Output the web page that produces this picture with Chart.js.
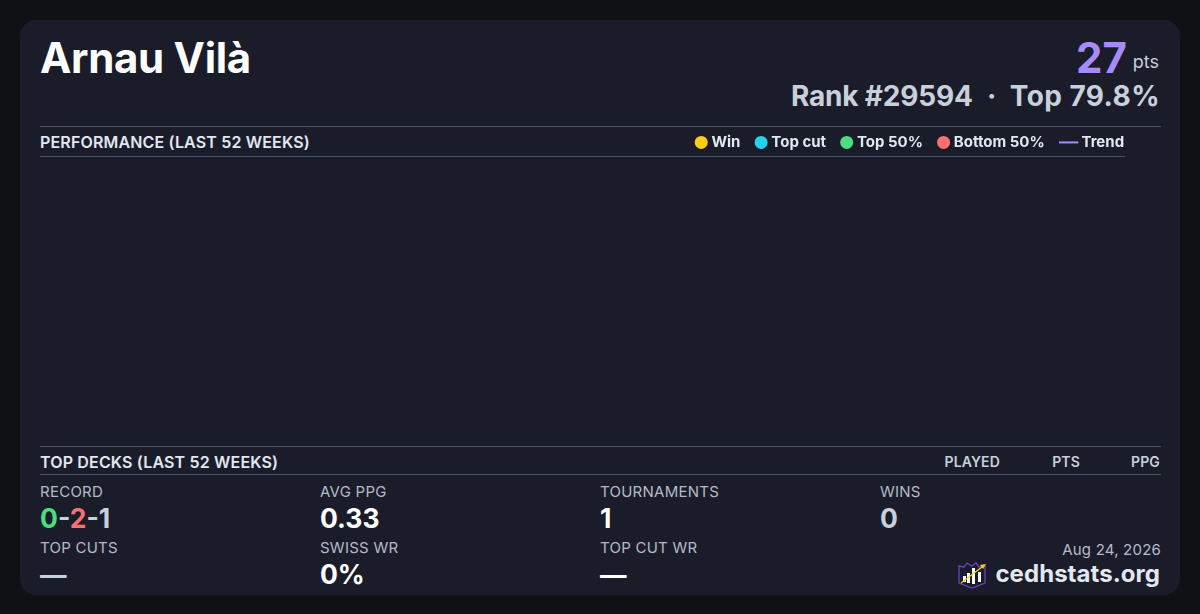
<!DOCTYPE html>
<html>
<head>
<meta charset="utf-8">
<title>Arnau Vilà</title>
<script src="https://cdn.jsdelivr.net/npm/chart.js@4"></script>
<style>
html, body { margin: 0; padding: 0; width: 1200px; height: 614px; overflow: hidden; background: #0f1115; font-family: Inter, sans-serif; }
#card { position: absolute; left: 20px; top: 20px; width: 1160px; height: 575px; background: #1a1d29; border-radius: 16px; }
.abs { position: absolute; white-space: nowrap; line-height: 1; }
.rule { position: absolute; height: 1px; background: #475569; left: 40px; }
.head { font-size: 16px; font-weight: 600; color: #e2e8f0; letter-spacing: 0.16px; }
.col { font-size: 14px; font-weight: 600; color: #c8d0dc; letter-spacing: 0.15px; }
.lab { font-size: 15px; color: #b4bbc8; letter-spacing: 0.25px; }
.val { font-size: 26.5px; font-weight: 700; color: #fff; }
.rank { font-size: 28px; font-weight: 650; color: #c8d0dc; top: 82px; }
#wrap { position: absolute; left: 40px; top: 117px; width: 1102px; height: 329px; }
</style>
</head>
<body>
<div id="card"></div>
<div class="abs" style="left:40px;top:37px;font-size:42px;font-weight:700;color:#fff;letter-spacing:-0.3px;">Arnau Vilà</div>
<div class="abs" style="right:73px;top:37px;font-size:42px;font-weight:700;color:#a78bfa;">27</div>
<div class="abs" style="right:41px;top:53px;font-size:18px;color:#c8d0dc;">pts</div>
<div class="abs rank" style="left:791px;letter-spacing:-0.2px;">Rank #29594</div>
<div class="abs rank" style="left:987px;">·</div>
<div class="abs rank" style="right:40px;letter-spacing:0.4px;">Top 79.8%</div>

<div class="rule" style="top:126px;width:1121px;"></div>
<div class="rule" style="top:156px;width:1085px;"></div>
<div class="abs head" style="left:40px;top:134px;">PERFORMANCE (LAST 52 WEEKS)</div>

<div id="wrap"><canvas id="perf"></canvas></div>

<div class="rule" style="top:446px;width:1121px;"></div>
<div class="rule" style="top:474px;width:1121px;"></div>
<div class="abs head" style="left:40px;top:454px;">TOP DECKS (LAST 52 WEEKS)</div>
<div class="abs col" style="right:200px;top:455px;">PLAYED</div>
<div class="abs col" style="right:120px;top:455px;">PTS</div>
<div class="abs col" style="right:40px;top:455px;">PPG</div>

<div class="abs lab" style="left:40px;top:484px;">RECORD</div>
<div class="abs val" style="left:40px;top:505px;color:#c8d0dc;"><span style="color:#4ade80">0</span>-<span style="color:#f87171">2</span>-1</div>
<div class="abs lab" style="left:320px;top:484px;">AVG PPG</div>
<div class="abs val" style="left:320px;top:505px;">0.33</div>
<div class="abs lab" style="left:600px;top:484px;">TOURNAMENTS</div>
<div class="abs val" style="left:600px;top:505px;">1</div>
<div class="abs lab" style="left:880px;top:484px;">WINS</div>
<div class="abs val" style="left:880px;top:505px;color:#c8d0dc;">0</div>

<div class="abs lab" style="left:40px;top:540px;">TOP CUTS</div>
<div class="abs val" style="left:40px;top:561px;color:#c8d0dc;">—</div>
<div class="abs lab" style="left:320px;top:540px;">SWISS WR</div>
<div class="abs val" style="left:320px;top:561px;">0%</div>
<div class="abs lab" style="left:600px;top:540px;">TOP CUT WR</div>
<div class="abs val" style="left:600px;top:561px;">—</div>

<div class="abs" style="right:39px;top:542px;font-size:15px;color:#b4bbc8;letter-spacing:0.2px;">Aug 24, 2026</div>
<div class="abs" style="right:40px;top:562px;font-size:24px;font-weight:700;color:#e2e8f0;letter-spacing:0.05px;">cedhstats.org</div>
<svg style="position:absolute;left:957px;top:559px;" width="30" height="30" viewBox="0 0 30 30">
  <path d="M2 7 L7 8 L10 4 L15 7 L19 4 L22 8 L28 7 L28 24 L15 29 L2 24 Z" fill="#1a1d29" stroke="#6d3fc8" stroke-width="1.3"/>
  <rect x="6" y="17" width="3" height="6" fill="#fff"/>
  <rect x="10" y="14" width="3" height="10" fill="#fff"/>
  <rect x="15" y="9" width="3" height="16" fill="#fff"/>
  <rect x="21" y="13" width="3" height="10" fill="#fff"/>
  <path d="M4 24 L25 8" stroke="#facc15" stroke-width="1.3"/>
  <path d="M29 5 L23 6 L26 10 Z" fill="#facc15"/>
</svg>

<script>
// nothing in the last 52 weeks, so every series is empty
const weeks = [];
const winPoints = [];
const topCutPoints = [];
const top50Points = [];
const bottom50Points = [];
const trendValues = [];

const seriesLabels = ['Win', 'Top cut', 'Top 50%', 'Bottom 50%', 'Trend'];
const seriesColors = ['#facc15', '#22d3ee', '#4ade80', '#f87171', '#a78bfa'];

// legend marker for the trend line, wider than the dots
const trendMark = document.createElement('canvas');
trendMark.width = 24;
trendMark.height = 4;
const markCtx = trendMark.getContext('2d');
markCtx.fillStyle = seriesColors[4];
markCtx.fillRect(0, 1, 19, 2);

const perfChart = new Chart(document.getElementById('perf'), {
    data: {
        labels: weeks,
        datasets: [
            { type: 'scatter', label: seriesLabels[0], data: winPoints, backgroundColor: seriesColors[0], pointStyle: 'circle' },
            { type: 'scatter', label: seriesLabels[1], data: topCutPoints, backgroundColor: seriesColors[1], pointStyle: 'circle' },
            { type: 'scatter', label: seriesLabels[2], data: top50Points, backgroundColor: seriesColors[2], pointStyle: 'circle' },
            { type: 'scatter', label: seriesLabels[3], data: bottom50Points, backgroundColor: seriesColors[3], pointStyle: 'circle' },
            { type: 'line', label: seriesLabels[4], data: trendValues, borderColor: seriesColors[4], backgroundColor: seriesColors[4], pointStyle: trendMark },
        ]
    },
    options: {
        responsive: true,
        maintainAspectRatio: false,
        animation: false,
        scales: {
            x: { display: false },
            y: { display: false },
        },
        plugins: {
            tooltip: { enabled: false },
            legend: {
                display: true,
                position: 'top',
                align: 'end',
                labels: {
                    usePointStyle: true,
                    boxWidth: 5.5,
                    boxHeight: 9.2,
                    padding: 17.9,
                    color: '#e2e8f0',
                    font: { family: 'Inter', size: 15, weight: '700' },
                    generateLabels(chart) {
                        return chart.data.datasets.map((ds, i) => ({
                            text: i === 3 ? ds.label + '\u00a0\u2009' : ds.label,
                            fillStyle: ds.backgroundColor,
                            strokeStyle: ds.backgroundColor,
                            lineWidth: 0,
                            pointStyle: ds.pointStyle,
                            fontColor: '#e2e8f0',
                            datasetIndex: i,
                        }));
                    },
                },
            },
        },
    }
});
</script>
</body>
</html>
